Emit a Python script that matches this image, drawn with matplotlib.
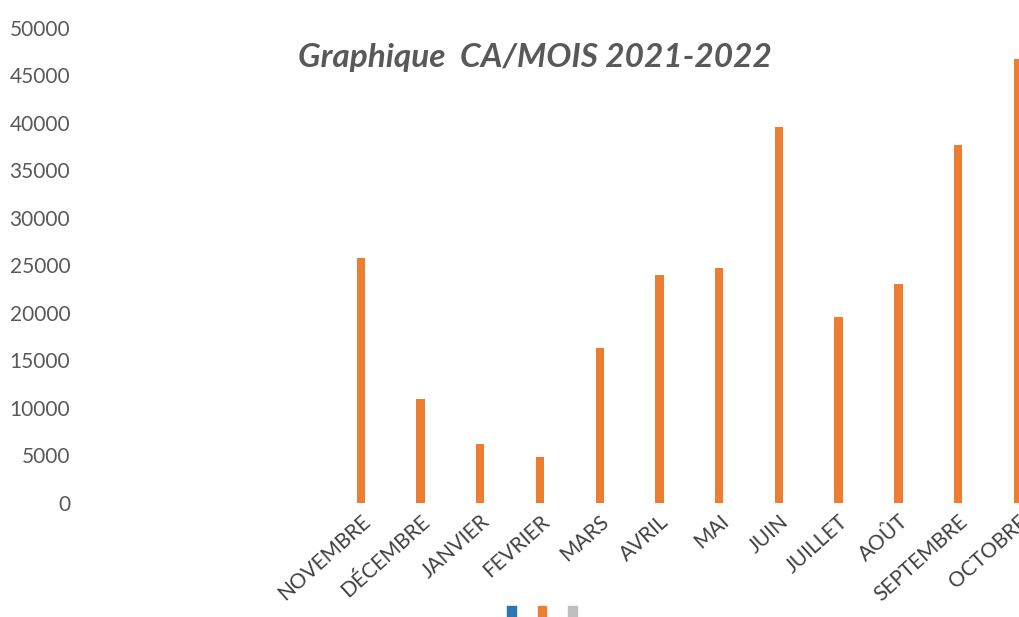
import matplotlib.pyplot as plt
from matplotlib.patches import Patch
import numpy as np

# Monthly revenue (CA) 2021-2022
mois = ['NOVEMBRE', 'DÉCEMBRE', 'JANVIER', 'FEVRIER', 'MARS', 'AVRIL',
        'MAI', 'JUIN', 'JUILLET', 'AOÛT', 'SEPTEMBRE', 'OCTOBRE']
ca = [25800, 10900, 6200, 4800, 16300, 24000,
      24700, 39600, 19600, 23000, 37700, 46700]
y_ticks = [0, 5000, 10000, 15000, 20000, 25000, 30000, 35000, 40000, 45000, 50000]

plt.rcParams['font.family'] = ['Lato', 'DejaVu Sans']
gris = '#595959'
orange = '#ED7D31'

fig = plt.figure(figsize=(10.19, 6.17), dpi=100)
ax = fig.add_axes([0.088, 0.185, 0.912, 0.770])

x = np.arange(len(mois))
ax.bar(x, ca, width=0.14, color=orange)

ax.set_ylim(0, 50000)
ax.set_xlim(-4.54, 11.02)
ax.set_yticks(y_ticks)
ax.set_yticklabels([str(v) for v in y_ticks], color=gris, fontsize=15)
ax.set_xticks(x)
ax.set_xticklabels(mois, rotation=42, ha='right', rotation_mode='anchor',
                   color='#404040', fontsize=15)
ax.tick_params(length=0, pad=14)
ax.tick_params(axis='x', pad=6)
for s in ax.spines.values():
    s.set_visible(False)
for lbl in ax.get_xticklabels():
    lbl.set_clip_on(False)

fig.text(0.525, 0.907, 'Graphique  CA/MOIS 2021-2022', ha='center', va='center',
         fontsize=24, fontweight='bold', fontstyle='italic', color=gris)

handles = [Patch(color='#2E75B6'), Patch(color=orange), Patch(color='#BFBFBF')]
fig.legend(handles, ['', '', ''], ncol=3, loc='center', bbox_to_anchor=(0.532, 0.008),
           frameon=False, handlelength=0.6, handleheight=0.9, columnspacing=1.6,
           handletextpad=0)

fig.savefig('out.png', dpi=100)
